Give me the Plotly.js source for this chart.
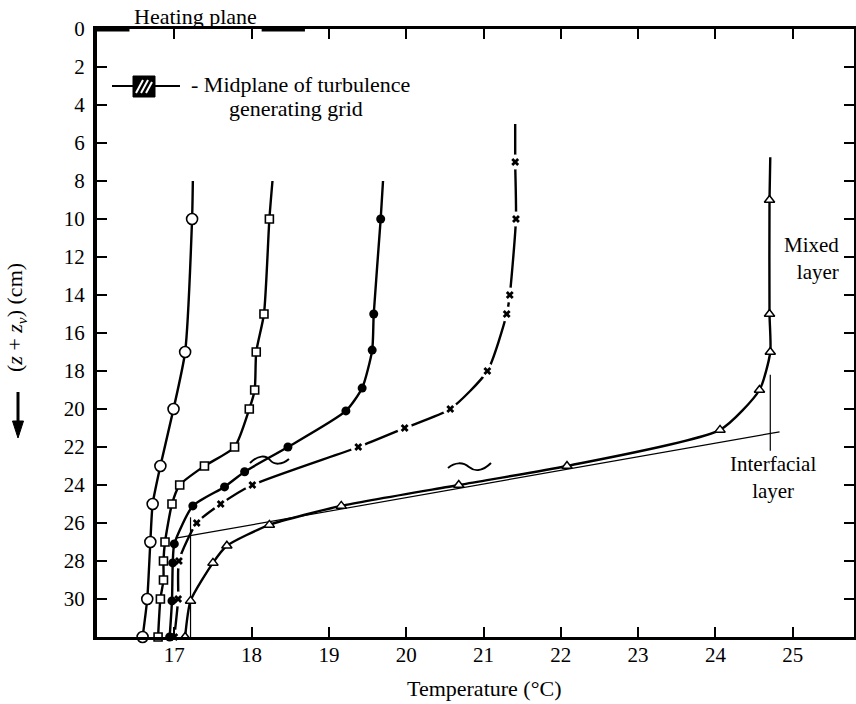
<!DOCTYPE html>
<html>
<head>
<meta charset="utf-8">
<script src="https://cdn.plot.ly/plotly-3.0.1.min.js"></script>
<style>html,body{margin:0;padding:0;background:#fff;}#chart{width:856px;height:704px;}</style>
</head>
<body>
<div id="chart"></div>
<script>
// ---- data (temperature °C, depth (z + z_v) cm) ----
// first point of each profile is the unmarked top end of the drawn curve
const tempOpenCircle  = [17.24, 17.23, 17.14, 16.99, 16.82, 16.72, 16.69, 16.65, 16.59];
const depthOpenCircle = [8, 10, 17, 20, 23, 25, 27, 30, 32];

const tempOpenSquare  = [18.27, 18.23, 18.16, 18.06, 18.04, 17.97, 17.78, 17.39, 17.07, 16.97, 16.88, 16.86, 16.86, 16.82, 16.79];
const depthOpenSquare = [8, 10, 15, 17, 19, 20, 22, 23, 24, 25, 27, 28, 29, 30, 32];

const tempFilledCircle  = [19.70, 19.67, 19.58, 19.56, 19.43, 19.22, 18.47, 17.91, 17.65, 17.24, 17.00, 16.98, 16.97, 16.94];
const depthFilledCircle = [8, 10, 15, 16.9, 18.9, 20.1, 22, 23.3, 24.1, 25.1, 27.1, 28.1, 30.1, 32];

const tempCross  = [21.41, 21.41, 21.42, 21.34, 21.30, 21.05, 20.57, 19.98, 19.38, 18.01, 17.60, 17.29, 17.06, 17.05, 17.00];
const depthCross = [5, 7, 10, 14, 15, 18, 20, 21, 22, 24, 25, 26, 28, 30, 32];

const tempTriangle  = [24.71, 24.70, 24.70, 24.71, 24.57, 24.06, 22.08, 20.68, 19.16, 18.23, 17.68, 17.50, 17.21, 17.14];
const depthTriangle = [6.75, 9, 15, 17, 19, 21.1, 23, 24, 25.1, 26.1, 27.2, 28.1, 30.1, 32];

// construction lines of the interfacial layer
const tangentT = [17.02, 24.83];
const tangentZ = [26.8, 21.2];
const leftMarkT = [17.21, 17.21];
const leftMarkZ = [25.7, 32];
const rightMarkT = [24.71, 24.71];
const rightMarkZ = [18.2, 22.2];

// heating plane (thick parts of top edge)
const heatingT = [15.97, 16.42, null, 18.13, 18.69];
const heatingZ = [0, 0, null, 0, 0];

const xTicks = [17, 18, 19, 20, 21, 22, 23, 24, 25];
const yTicks = [0, 2, 4, 6, 8, 10, 12, 14, 16, 18, 20, 22, 24, 26, 28, 30];

// ---- layout geometry ----
const W = 856, H = 704;
const M = {l: 97, r: 2, t: 29, b: 67};
const plotW = W - M.l - M.r, plotH = H - M.t - M.b;
const X0 = 16, X1 = 16 + plotW / 77.3;
const Y0 = 32, Y1 = 0;
const px = p => (p - M.l) / plotW;              // pixel -> paper x
const py = p => 1 - (p - M.t) / plotH;          // pixel -> paper y
const dT = p => X0 + (p - M.l) / plotW * (X1 - X0); // pixel -> data x
const dZ = p => Y1 + (p - M.t) / plotH * (Y0 - Y1); // pixel -> data y

const FONT = 'Liberation Serif, Times New Roman, serif';
const topOpacity = arr => arr.map((_, i) => i === 0 ? 0 : 1);
const SMOOTH = 0.6;

function profile(T, Z, marker) {
  return {
    x: T, y: Z, type: 'scatter', mode: 'lines+markers', cliponaxis: false,
    line: {color: '#000', width: 2.4, shape: 'spline', smoothing: SMOOTH},
    marker: Object.assign({opacity: topOpacity(T)}, marker),
    hoverinfo: 'x+y', showlegend: false
  };
}

const traces = [
  // crosses: line broken at each point
  {x: tempCross, y: depthCross, type: 'scatter', mode: 'lines', cliponaxis: false,
   line: {color: '#000', width: 2.4, shape: 'spline', smoothing: SMOOTH}, showlegend: false},
  {x: tempCross.slice(1), y: depthCross.slice(1), type: 'scatter', mode: 'markers', cliponaxis: false,
   marker: {symbol: 'circle', size: 15, color: '#fff'}, showlegend: false, hoverinfo: 'skip'},
  {x: tempCross.slice(1), y: depthCross.slice(1), type: 'scatter', mode: 'markers', cliponaxis: false,
   marker: {symbol: 'x', size: 7, color: '#000'}, showlegend: false},
  // thin construction lines
  {x: tangentT, y: tangentZ, type: 'scatter', mode: 'lines', line: {color: '#000', width: 1.2}, showlegend: false, hoverinfo: 'skip'},
  {x: leftMarkT, y: leftMarkZ, type: 'scatter', mode: 'lines', line: {color: '#000', width: 1.2}, showlegend: false, hoverinfo: 'skip'},
  {x: rightMarkT, y: rightMarkZ, type: 'scatter', mode: 'lines', line: {color: '#000', width: 1.2}, showlegend: false, hoverinfo: 'skip'},
  profile(tempOpenCircle, depthOpenCircle, {symbol: 'circle', size: 11, color: '#fff', line: {color: '#000', width: 1.6}}),
  profile(tempOpenSquare, depthOpenSquare, {symbol: 'square', size: 8, color: '#fff', line: {color: '#000', width: 1.6}}),
  profile(tempFilledCircle, depthFilledCircle, {symbol: 'circle', size: 9, color: '#000'}),
  profile(tempTriangle, depthTriangle, {symbol: 'triangle-up', size: 9, color: '#fff', line: {color: '#000', width: 1.5}}),
  // heating plane
  {x: heatingT, y: heatingZ, type: 'scatter', mode: 'lines', cliponaxis: false,
   line: {color: '#000', width: 5}, showlegend: false, hoverinfo: 'skip'}
];

// symbol of the grid midplane (legend-like key), placed in pixels
const keyY = dZ(86);
const shapes = [
  {type: 'line', xref: 'x', yref: 'y', x0: dT(112), x1: dT(180), y0: keyY, y1: keyY, line: {color: '#000', width: 2}},
  {type: 'rect', xref: 'x', yref: 'y', x0: dT(133), x1: dT(155), y0: dZ(76), y1: dZ(97), fillcolor: '#000', line: {color: '#000', width: 1}},
  {type: 'line', xref: 'x', yref: 'y', x0: dT(136), x1: dT(143), y0: dZ(93), y1: dZ(80), line: {color: '#fff', width: 2}},
  {type: 'line', xref: 'x', yref: 'y', x0: dT(141), x1: dT(148), y0: dZ(93), y1: dZ(80), line: {color: '#fff', width: 2}},
  {type: 'line', xref: 'x', yref: 'y', x0: dT(146), x1: dT(152), y0: dZ(93), y1: dZ(82), line: {color: '#fff', width: 2}},
  // wavy marks
  {type: 'path', xref: 'x', yref: 'y', line: {color: '#000', width: 2},
   path: `M ${dT(250)},${dZ(463)} C ${dT(258)},${dZ(455)} ${dT(266)},${dZ(455)} ${dT(270)},${dZ(460)} S ${dT(282)},${dZ(465)} ${dT(289)},${dZ(459)}`},
  {type: 'path', xref: 'x', yref: 'y', line: {color: '#000', width: 2},
   path: `M ${dT(448)},${dZ(468)} C ${dT(455)},${dZ(462)} ${dT(463)},${dZ(462)} ${dT(469)},${dZ(467)} S ${dT(483)},${dZ(471)} ${dT(491)},${dZ(463)}`},
  // down arrow beside the axis title
  {type: 'line', xref: 'paper', yref: 'paper', x0: px(18), x1: px(18), y0: py(392), y1: py(424), line: {color: '#000', width: 3}},
  {type: 'path', xref: 'paper', yref: 'paper', fillcolor: '#000', line: {color: '#000', width: 1},
   path: `M ${px(12.5)},${py(421)} L ${px(23.5)},${py(421)} L ${px(18)},${py(438)} Z`}
];

const ann = (x, y, text, opts) => Object.assign({
  xref: 'paper', yref: 'paper', x: px(x), y: py(y), text: text, showarrow: false,
  xanchor: 'center', yanchor: 'middle', font: {family: FONT, size: 22, color: '#000'}
}, opts || {});

const annotations = [
  ann(195, 16, 'Heating plane'),
  ann(189, 85, '- Midplane of turbulence', {xanchor: 'left'}),
  ann(296, 109, 'generating grid'),
  ann(841, 258, 'Mixed<br>layer', {xanchor: 'right', align: 'right', font: {family: FONT, size: 21, color: '#000'}}),
  ann(773, 477, 'Interfacial<br>layer', {font: {family: FONT, size: 21, color: '#000'}}),
  ann(484, 688, 'Temperature (°C)'),
  ann(16, 318, '(<i>z</i> + <i>z</i><sub><i>v</i></sub>) (cm)', {textangle: -90})
];

const axisCommon = {
  showgrid: false, zeroline: false, showline: true, linecolor: '#000',
  ticks: 'inside', ticklen: 10, tickwidth: 2, tickcolor: '#000', mirror: 'allticks',
  tickfont: {family: FONT, size: 21, color: '#000'}, fixedrange: true
};

const layout = {
  width: W, height: H, margin: M, paper_bgcolor: '#fff', plot_bgcolor: '#fff',
  showlegend: false,
  xaxis: Object.assign({}, axisCommon, {range: [X0, X1], tickmode: 'array', tickvals: xTicks,
    ticktext: xTicks.map(String), linewidth: 3, ticklabelstandoff: -3}),
  yaxis: Object.assign({}, axisCommon, {range: [Y0, Y1], tickmode: 'array', tickvals: yTicks,
    ticktext: yTicks.map(String), linewidth: 4, ticklabelstandoff: 4}),
  shapes: shapes, annotations: annotations
};

Plotly.newPlot('chart', traces, layout, {displayModeBar: false, staticPlot: true});
</script>
</body>
</html>
